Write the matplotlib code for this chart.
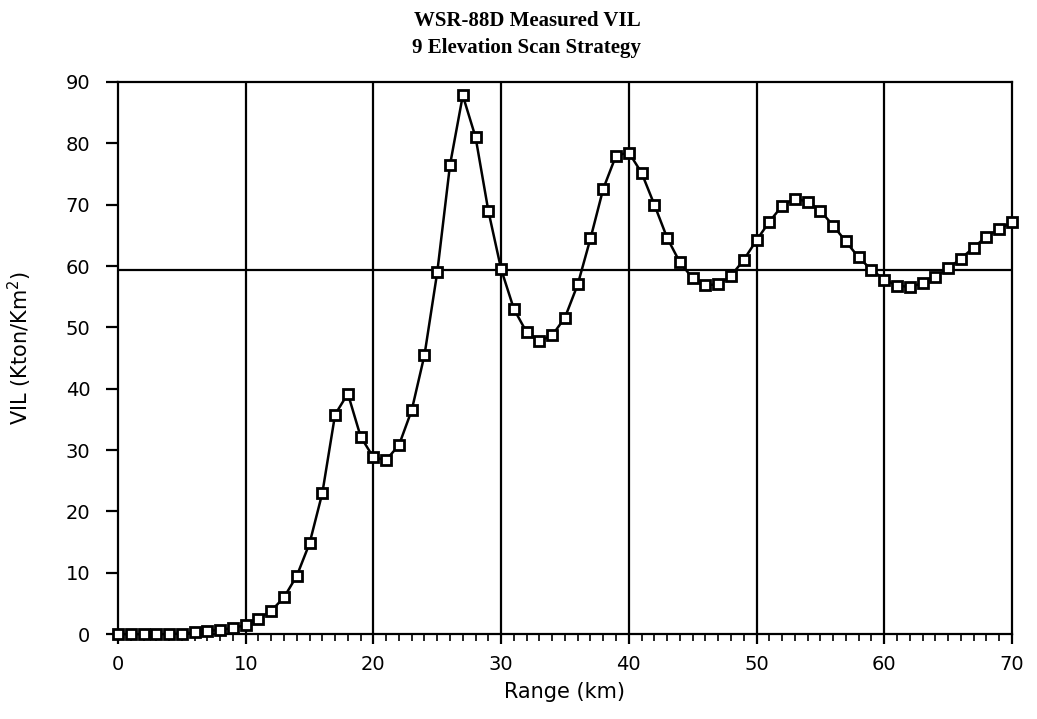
import matplotlib
matplotlib.use("Agg")
import matplotlib.pyplot as plt
import numpy as np

# range (km) and measured VIL
range_km = list(range(0, 71))
vil = [0, 0, 0, 0, 0, 0.1, 0.3, 0.5, 0.7, 1.0,
       1.5, 2.5, 3.8, 6.0, 9.5, 14.8, 23.0, 35.8, 39.2, 32.2,
       28.8, 28.4, 30.8, 36.5, 45.5, 59.0, 76.5, 87.8, 81.0, 69.0,
       59.5, 53.0, 49.2, 47.8, 48.7, 51.6, 57.0, 64.5, 72.6, 78.0,
       78.5, 75.2, 70.0, 64.6, 60.6, 58.0, 56.9, 57.0, 58.4, 61.0,
       64.2, 67.2, 69.8, 71.0, 70.5, 69.0, 66.6, 64.0, 61.4, 59.4,
       57.8, 56.8, 56.6, 57.2, 58.2, 59.6, 61.2, 63.0, 64.8, 66.0,
       67.2]
ref_level = 59.3

x_ticks = [0, 10, 20, 30, 40, 50, 60, 70]
y_ticks = [0, 10, 20, 30, 40, 50, 60, 70, 80, 90]

fig = plt.figure(figsize=(10.37, 7.19), dpi=100)
ax = fig.add_axes([0.1138, 0.118, 0.862, 0.768])

for xv in x_ticks[1:-1]:
    ax.axvline(xv, color="black", lw=1.6, zorder=1)
ax.axhline(ref_level, color="black", lw=1.6, zorder=1)

ax.plot(range_km, vil, color="black", lw=1.8, marker="s", markersize=7.5,
        markerfacecolor="white", markeredgecolor="black", markeredgewidth=2.0,
        zorder=3, clip_on=False)

ax.set_xlim(0, 70)
ax.set_ylim(0, 90)
ax.set_xticks(x_ticks)
ax.set_xticks(range_km, minor=True)
ax.set_yticks(y_ticks)
for s in ax.spines.values():
    s.set_linewidth(1.6)

ax.tick_params(axis="x", which="major", direction="out", length=7, width=1.6,
               labelsize=14, pad=8)
ax.tick_params(axis="x", which="minor", direction="out", length=5, width=1.2)
ax.tick_params(axis="y", which="major", direction="out", length=9, width=1.6,
               labelsize=14, pad=11)
for lab in ax.get_xticklabels() + ax.get_yticklabels():
    lab.set_fontfamily("DejaVu Sans")

ax.set_xlabel("Range (km)", fontsize=15, family="DejaVu Sans", labelpad=6)
ax.set_ylabel("VIL (Kton/Km$^2$)", fontsize=15, family="DejaVu Sans")
ax.yaxis.set_label_coords(-0.094, 0.518)

fig.text(0.509, 0.985, "WSR-88D Measured VIL", ha="center", va="top",
         fontsize=15, fontweight="bold", family="Liberation Serif")
fig.text(0.508, 0.947, "9 Elevation Scan Strategy", ha="center", va="top",
         fontsize=15, fontweight="bold", family="Liberation Serif")

fig.savefig("out.png", dpi=100)
